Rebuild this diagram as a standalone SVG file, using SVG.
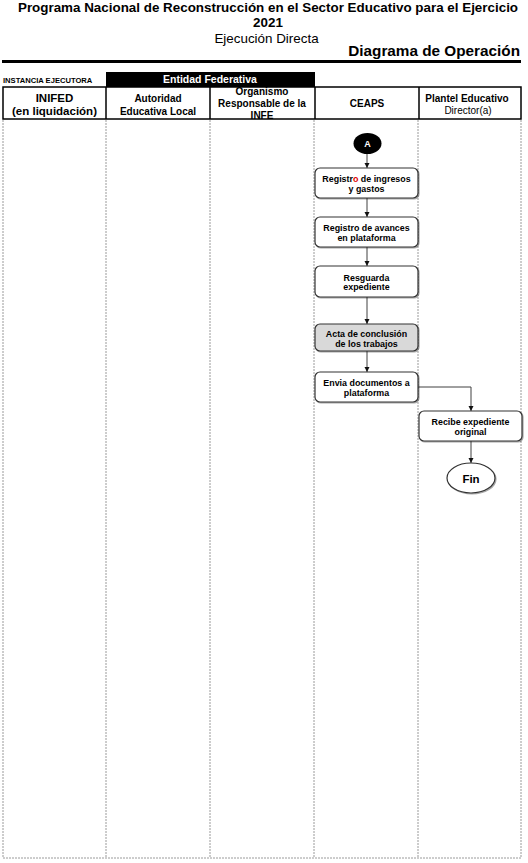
<svg xmlns="http://www.w3.org/2000/svg" width="528" height="863" viewBox="0 0 528 863">
<style>
text{font-family:"Liberation Sans",Arial,sans-serif;fill:#000}
.b{font-weight:bold}
.t{font-size:13.4px;font-weight:bold}
.hd{font-size:10px;font-weight:bold}
.bx{fill:#fff;stroke:#333;stroke-width:1.2}
.bt{font-size:8.9px;font-weight:bold;text-anchor:middle}
.lane{stroke:#9a9a9a;stroke-width:1;stroke-dasharray:2,1;fill:none}
.cn{stroke:#404040;stroke-width:1;fill:none}
</style>
<defs>
<marker id="ar" markerUnits="userSpaceOnUse" markerWidth="6" markerHeight="6" refX="5" refY="3" orient="auto">
<path d="M0,0.5 L5,3 L0,5.5 Z" fill="#111"/>
</marker>
<filter id="sh" x="-10%" y="-10%" width="125%" height="140%">
<feDropShadow dx="1" dy="1" stdDeviation="0.6" flood-color="#000" flood-opacity="0.35"/>
</filter>
</defs>
<rect width="528" height="863" fill="#fff"/>
<g id="title">
<text class="t" x="268" y="12" text-anchor="middle">Programa Nacional de Reconstrucción en el Sector Educativo para el Ejercicio</text>
<text class="t" x="268" y="27" text-anchor="middle">2021</text>
<text x="266.5" y="43" text-anchor="middle" font-size="13.4">Ejecución Directa</text>
<text x="520" y="56" text-anchor="end" font-size="15.3" class="b">Diagrama de Operación</text>
<line x1="2" y1="61.5" x2="521" y2="61.5" stroke="#000" stroke-width="3"/>
</g>
<g id="header">
<text x="3" y="83" font-size="7.6" class="b">INSTANCIA EJECUTORA</text>
<rect x="106" y="72" width="209" height="15" fill="#000"/>
<text x="210" y="83" font-size="10.5" class="b" text-anchor="middle" style="fill:#fff">Entidad Federativa</text>
<rect x="3" y="87" width="518" height="32" fill="none" stroke="#000" stroke-width="1.5"/>
<g stroke="#000" stroke-width="1.5">
<line x1="106" y1="87" x2="106" y2="119"/>
<line x1="210" y1="87" x2="210" y2="119"/>
<line x1="315" y1="87" x2="315" y2="119"/>
<line x1="419" y1="87" x2="419" y2="119"/>
</g>
<text x="54.5" y="102" font-size="11.5" class="b" text-anchor="middle">INIFED</text>
<text x="54.5" y="115" font-size="11.5" class="b" text-anchor="middle">(en liquidación)</text>
<text x="158" y="102" class="hd" font-size="10.3" text-anchor="middle">Autoridad</text>
<text x="158" y="115" class="hd" font-size="10.3" text-anchor="middle">Educativa Local</text>
<text x="262" y="95" class="hd" text-anchor="middle">Organismo</text>
<text x="262" y="107" class="hd" text-anchor="middle">Responsable de la</text>
<text x="262" y="119" class="hd" text-anchor="middle">INFE</text>
<text x="367" y="107" class="hd" font-size="10.5" text-anchor="middle">CEAPS</text>
<text x="467" y="102" class="hd" text-anchor="middle">Plantel Educativo</text>
<text x="468" y="114" font-size="10" text-anchor="middle">Director(a)</text>
</g>
<g id="lanes">
<line class="lane" x1="3" y1="120" x2="3" y2="858"/>
<line class="lane" x1="106" y1="120" x2="106" y2="858"/>
<line class="lane" x1="210" y1="120" x2="210" y2="858"/>
<line class="lane" x1="314" y1="120" x2="314" y2="858"/>
<line class="lane" x1="418" y1="120" x2="418" y2="858"/>
<line class="lane" x1="521" y1="120" x2="521" y2="858"/>
<line class="lane" x1="3" y1="858" x2="521" y2="858"/>
</g>
<g id="connectors">
<line class="cn" x1="367" y1="154" x2="367" y2="168" marker-end="url(#ar)"/>
<line class="cn" x1="367" y1="198" x2="367" y2="217" marker-end="url(#ar)"/>
<line class="cn" x1="367" y1="247" x2="367" y2="266" marker-end="url(#ar)"/>
<line class="cn" x1="367" y1="297" x2="367" y2="324" marker-end="url(#ar)"/>
<line class="cn" x1="367" y1="351" x2="367" y2="372" marker-end="url(#ar)"/>
<path class="cn" d="M418,387 H471 V411" marker-end="url(#ar)"/>
<line class="cn" x1="471" y1="441" x2="471" y2="463" marker-end="url(#ar)"/>
</g>
<g id="nA">
<ellipse cx="367.5" cy="143.5" rx="14" ry="10.5" fill="#000"/>
<text x="367.5" y="147" font-size="9" class="b" text-anchor="middle" style="fill:#fff">A</text>
</g>
<g id="n1">
<rect class="bx" x="315" y="168" width="103" height="30" rx="5" filter="url(#sh)"/>
<text class="bt" x="366.5" y="182">Registr<tspan style="fill:#e00000">o</tspan> de ingresos</text>
<text class="bt" x="366.5" y="191.5">y gastos</text>
</g>
<g id="n2">
<rect class="bx" x="315" y="217" width="103" height="30" rx="5" filter="url(#sh)"/>
<text class="bt" x="366.5" y="231">Registro de avances</text>
<text class="bt" x="366.5" y="241">en plataforma</text>
</g>
<g id="n3">
<rect class="bx" x="315" y="266" width="103" height="31" rx="5" filter="url(#sh)"/>
<text class="bt" x="366.5" y="280.5">Resguarda</text>
<text class="bt" x="366.5" y="290">expediente</text>
</g>
<g id="n4">
<rect class="bx" x="315" y="324" width="103" height="27" rx="5" style="fill:#d9d9d9" filter="url(#sh)"/>
<text class="bt" x="366.5" y="337">Acta de conclusión</text>
<text class="bt" x="366.5" y="347">de los trabajos</text>
</g>
<g id="n5">
<rect class="bx" x="315" y="372" width="103" height="30" rx="5" filter="url(#sh)"/>
<text class="bt" x="366.5" y="386">Envia documentos a</text>
<text class="bt" x="366.5" y="395.5">plataforma</text>
</g>
<g id="n6">
<rect class="bx" x="419" y="411" width="103" height="30" rx="5" filter="url(#sh)"/>
<text class="bt" x="470.5" y="425">Recibe expediente</text>
<text class="bt" x="470.5" y="434.5">original</text>
</g>
<g id="nFin">
<ellipse cx="471" cy="478" rx="24" ry="15" fill="#fff" stroke="#333" stroke-width="1.2" filter="url(#sh)"/>
<text x="471" y="482.5" font-size="11.5" class="b" text-anchor="middle">Fin</text>
</g>
</svg>
